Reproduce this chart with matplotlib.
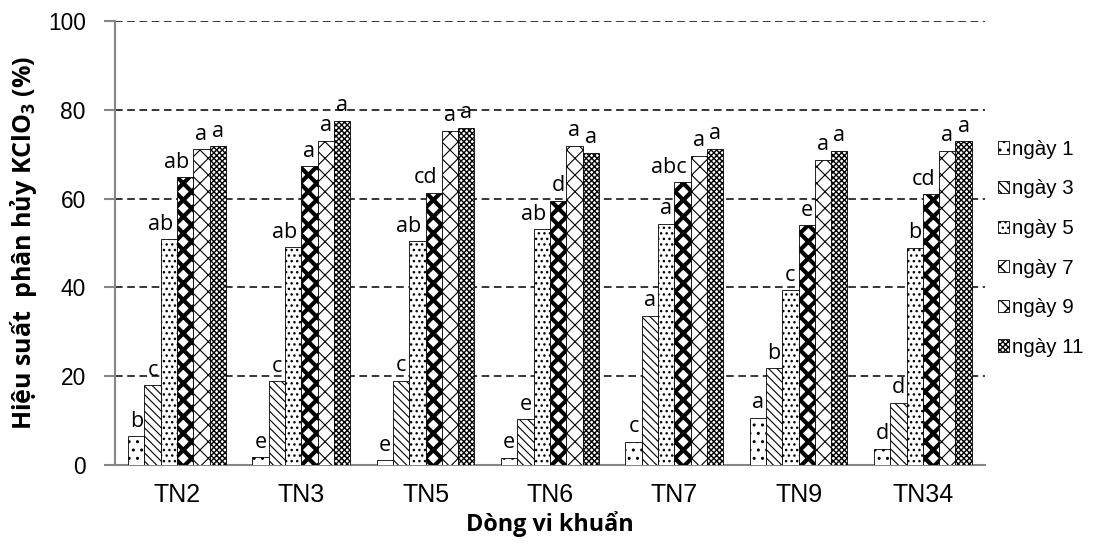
import matplotlib
matplotlib.use('Agg')
import matplotlib.pyplot as plt
import numpy as np

# data
strains = ['TN2', 'TN3', 'TN5', 'TN6', 'TN7', 'TN9', 'TN34']
days = ['ngày 1', 'ngày 3', 'ngày 5', 'ngày 7', 'ngày 9', 'ngày 11']

day1 = [6.5, 1.7, 1.1, 1.6, 5.2, 10.6, 3.7]
day3 = [18.0, 18.9, 19.0, 10.3, 33.6, 21.8, 14.0]
day5 = [50.8, 49.0, 50.4, 53.1, 54.3, 39.4, 48.9]
day7 = [64.8, 67.3, 61.3, 59.5, 63.7, 54.0, 61.0]
day9 = [71.1, 73.0, 75.3, 71.9, 69.7, 68.8, 70.8]
day11 = [71.8, 77.5, 76.0, 70.3, 71.2, 70.8, 72.9]

let1 = ['b', 'e', 'e', 'e', 'c', 'a', 'd']
let3 = ['c', 'c', 'c', 'e', 'a', 'b', 'd']
let5 = ['ab', 'ab', 'ab', 'ab', 'a', 'c', 'b']
let7 = ['ab', 'a', 'cd', 'd', 'abc', 'e', 'cd']
let9 = ['a', 'a', 'a', 'a', 'a', 'a', 'a']
let11 = ['a', 'a', 'a', 'a', 'a', 'a', 'a']

yticks = [0, 20, 40, 60, 80, 100]

series = [day1, day3, day5, day7, day9, day11]
letters = [let1, let3, let5, let7, let9, let11]
hatches = ['..', '\\\\\\\\', '...', 'xx', 'xx', 'xxxxxx']
hatch_lw = [1.0, 0.8, 1.0, 3.0, 0.8, 1.0]

plt.rcParams['mathtext.fontset'] = 'custom'
plt.rcParams['mathtext.rm'] = 'Open Sans'
plt.rcParams['mathtext.bf'] = 'Open Sans:bold'

fig, ax = plt.subplots(figsize=(10.94, 5.48), dpi=100)
fig.subplots_adjust(left=0.105, right=0.9004, top=0.9617, bottom=0.1515)

x = np.arange(len(strains))
w = 0.131
for i in range(len(series)):
    pos = x + (i - 2.5) * w
    bars = ax.bar(pos, series[i], w, facecolor='white', edgecolor='black',
                  hatch=hatches[i], linewidth=0.6, label=days[i], zorder=3)
    for b in bars:
        if hasattr(b, 'set_hatch_linewidth'):
            b.set_hatch_linewidth(hatch_lw[i])
    for p, v, t in zip(pos, series[i], letters[i]):
        if len(t) > 1:
            ax.text(p + w * 0.25, v + 1.0, t, ha='right', va='bottom',
                    fontsize=15.5, family='Open Sans', zorder=4)
        else:
            ax.text(p, v + 1.0, t, ha='center', va='bottom',
                    fontsize=15.5, family='Open Sans', zorder=4)

for yv in yticks[1:]:
    ax.axhline(yv, color='black', linestyle=(0, (5, 3)), linewidth=1.1, zorder=1)

ax.set_xlim(-0.5, len(strains) - 0.5)
ax.set_ylim(0, 100)
ax.set_yticks(yticks)
ax.set_xticks(x)
ax.set_xticklabels(strains, fontsize=18, family='Liberation Sans')
ax.tick_params(axis='x', length=0, pad=13)
ax.tick_params(axis='y', length=8, width=1.5, color='#868686', pad=13,
               labelsize=16.4)
for lab in ax.get_yticklabels():
    lab.set_family('Liberation Sans')

for s in ['top', 'right']:
    ax.spines[s].set_visible(False)
for s in ['left', 'bottom']:
    ax.spines[s].set_color('#868686')
    ax.spines[s].set_linewidth(1.5)

ax.set_xlabel('Dòng vi khuẩn', fontsize=16.8, fontweight='bold',
              family='Open Sans', labelpad=3)
ax.set_ylabel(r'Hiệu suất  phân hủy KClO$_\mathbf{3}$ (%)', fontsize=18,
              fontweight='bold', family='Open Sans', labelpad=6)

fig.legend(loc='center left', bbox_to_anchor=(0.912, 0.547), frameon=False,
           prop={'family': 'Liberation Sans', 'size': 14.8},
           handlelength=0.55, handleheight=0.55, handletextpad=0.15,
           labelspacing=1.0, borderpad=0, borderaxespad=0)

fig.savefig('out.png', dpi=100)
